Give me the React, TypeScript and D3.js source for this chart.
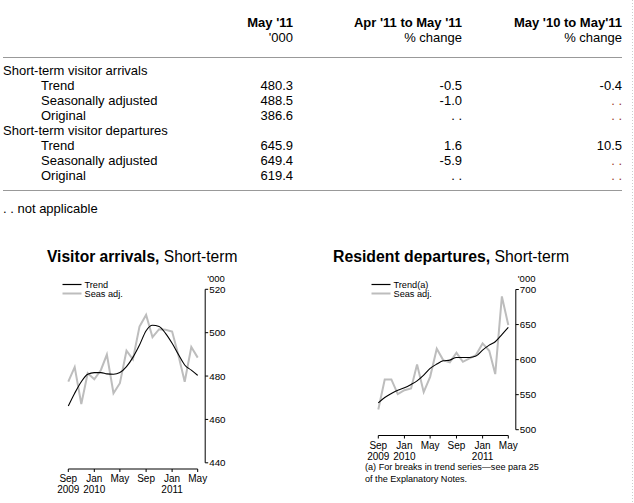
import React from "react";
import * as d3 from "d3";

// ---------- Table data ----------
const tableHeaders = [
  ["May '11", "'000"],
  ["Apr '11 to May '11", "% change"],
  ["May '10 to May'11", "% change"],
];
const tableGroups = ["Short-term visitor arrivals", "Short-term visitor departures"];
const tableRowLabels = ["Trend", "Seasonally adjusted", "Original"];
const arrivalsLevel = ["480.3", "488.5", "386.6"];
const arrivalsMonthly = ["-0.5", "-1.0", ". ."];
const arrivalsYearly = ["-0.4", ". .", ". ."];
const departuresLevel = ["645.9", "649.4", "619.4"];
const departuresMonthly = ["1.6", "-5.9", ". ."];
const departuresYearly = ["10.5", ". .", ". ."];

// ---------- Chart data (monthly, Sep 2009 – May 2011) ----------
const arrivalsTrend = [466.2, 472.1, 477.4, 480.8, 481.6, 481.6, 481.0, 480.8, 481.6, 484.3, 488.6, 494.3, 500.9, 503.4, 502.8, 499.7, 495.1, 489.7, 485.1, 482.7, 480.3];
const arrivalsSA = [477.4, 484.1, 467.1, 481.3, 478.5, 482.8, 489.9, 472.1, 476.7, 491.7, 487.7, 502.8, 508.2, 497.9, 501.6, 501.3, 500.5, 489.0, 477.4, 493.4, 488.5];
const departuresTrend = [538.3, 546.0, 551.7, 556.4, 559.7, 564.5, 569.7, 577.9, 587.4, 593.6, 598.3, 599.3, 603.1, 603.1, 603.1, 605.0, 613.6, 620.7, 625.5, 635.7, 645.9];
const departuresSA = [528.8, 571.7, 571.7, 550.7, 556.4, 558.8, 593.1, 553.6, 575.4, 615.4, 599.3, 596.0, 609.7, 596.9, 601.7, 606.4, 623.1, 612.6, 579.3, 690.1, 649.4];

const arrivalsTicks = [440, 460, 480, 500, 520];
const departuresTicks = [500, 550, 600, 650, 700];
const monthTickLabels = ["Sep", "Jan", "May", "Sep", "Jan", "May"];
const yearTickLabels = ["2009", "2010", "", "", "2011", ""];

const months = d3.timeMonth.range(new Date(2009, 8, 1), new Date(2011, 5, 1));

const FONT = "'Liberation Sans', Arial, sans-serif";

type ChartProps = {
  title: string;
  trendLabel: string;
  trend: number[];
  sa: number[];
  domain: [number, number];
  ticks: number[];
  x0: number;
  x1: number;
  yTop: number;
  yBottom: number;
  xAxisY: number;
  titleX: number;
  titleSize: number;
  legendX: number;
  footnote?: string[];
  footnoteX?: number;
};

function Chart(p: ChartProps) {
  const x = d3.scaleTime().domain([months[0], months[months.length - 1]]).range([p.x0, p.x1]);
  const y = d3.scaleLinear().domain(p.domain).range([p.yBottom, p.yTop]);
  const line = d3
    .line<number>()
    .x((_, i) => x(months[i]))
    .y((v) => y(v))
    .curve(d3.curveMonotoneX);
  const lineSA = d3
    .line<number>()
    .x((_, i) => x(months[i]))
    .y((v) => y(v));
  const axisX = p.x1 + 7.5;
  const tdates = [0, 4, 8, 12, 16, 20].map((i) => months[i]);
  return (
    <g>
      <text x={p.titleX} y={262} fontSize={p.titleSize} fontFamily={FONT} fill="#000">
        <tspan fontWeight="bold">{p.title},</tspan>
        <tspan> Short-term</tspan>
      </text>
      {/* legend */}
      <line x1={p.legendX} x2={p.legendX + 19} y1={284.5} y2={284.5} stroke="#000" strokeWidth={1.2} />
      <text x={p.legendX + 22} y={287.7} fontSize={9.2} fontFamily={FONT}>{p.trendLabel}</text>
      <line x1={p.legendX} x2={p.legendX + 19} y1={293.5} y2={293.5} stroke="#bdbdbd" strokeWidth={2} />
      <text x={p.legendX + 22} y={296.7} fontSize={9.2} fontFamily={FONT}>Seas adj.</text>

      {/* series */}
      <path d={lineSA(p.sa) || ""} fill="none" stroke="#bdbdbd" strokeWidth={2} />
      <path d={line(p.trend) || ""} fill="none" stroke="#000" strokeWidth={1.1} />

      {/* y axis */}
      <line x1={axisX} x2={axisX} y1={y(p.domain[1])} y2={y(p.domain[0])} stroke="#000" strokeWidth={1} />
      {p.ticks.map((t) => (
        <g key={t}>
          <line x1={axisX} x2={axisX + 3} y1={y(t)} y2={y(t)} stroke="#000" strokeWidth={1} />
          <text x={axisX + 4} y={y(t) + 3.5} fontSize={9.8} fontFamily={FONT}>{t}</text>
        </g>
      ))}
      <text x={axisX + 2} y={282} fontSize={9.5} fontFamily={FONT}>'000</text>

      {/* x axis */}
      <line x1={p.x0} x2={p.x1} y1={p.xAxisY} y2={p.xAxisY} stroke="#000" strokeWidth={1} />
      {tdates.map((d, i) => (
        <g key={i}>
          <line x1={x(d)} x2={x(d)} y1={p.xAxisY} y2={p.xAxisY + 3} stroke="#000" strokeWidth={1} />
          <text x={x(d)} y={p.xAxisY + 13} fontSize={10} fontFamily={FONT} textAnchor="middle">{monthTickLabels[i]}</text>
          {yearTickLabels[i] && (
            <text x={x(d)} y={p.xAxisY + 24} fontSize={10} fontFamily={FONT} textAnchor="middle">{yearTickLabels[i]}</text>
          )}
        </g>
      ))}
      {p.footnote &&
        p.footnote.map((f, i) => (
          <text key={i} x={p.footnoteX} y={p.xAxisY + 34.5 + i * 11.5} fontSize={9.1} fontFamily={FONT}>{f}</text>
        ))}
    </g>
  );
}

export default function App() {
  const colRight = [293, 462, 622];
  const rowY0 = 74.5;
  const rowH = 15;
  const groups = [
    { name: tableGroups[0], cols: [arrivalsLevel, arrivalsMonthly, arrivalsYearly] },
    { name: tableGroups[1], cols: [departuresLevel, departuresMonthly, departuresYearly] },
  ];
  return (
    <svg
      width={634}
      height={503}
      style={{ position: "absolute", left: 0, top: 0, background: "#fff" }}
      fontFamily={FONT}
    >
      <rect width={634} height={503} fill="#fff" />
      {/* table header */}
      {tableHeaders.map((h, i) => (
        <g key={i}>
          <text x={colRight[i]} y={26.5} fontSize={13} fontWeight="bold" textAnchor="end">{h[0]}</text>
          <text x={colRight[i]} y={41.5} fontSize={13} textAnchor="end">{h[1]}</text>
        </g>
      ))}
      <line x1={3} x2={622} y1={57.5} y2={57.5} stroke="#999" strokeWidth={1.2} />
      {groups.map((g, gi) => {
        const base = rowY0 + gi * 4 * rowH;
        return (
          <g key={gi}>
            <text x={3} y={base} fontSize={13}>{g.name}</text>
            {tableRowLabels.map((r, ri) => (
              <g key={ri}>
                <text x={41} y={base + (ri + 1) * rowH} fontSize={13}>{r}</text>
                {g.cols.map((c, ci) => (
                  <text
                    key={ci}
                    x={colRight[ci]}
                    y={base + (ri + 1) * rowH}
                    fontSize={13}
                    textAnchor="end"
                    fill={c[ri] === ". ." && ci === 2 ? "#9a3a2a" : "#000"}
                  >
                    {c[ri]}
                  </text>
                ))}
              </g>
            ))}
          </g>
        );
      })}
      <line x1={3} x2={622} y1={190.5} y2={190.5} stroke="#999" strokeWidth={1.2} />
      <text x={3} y={212.5} fontSize={13}>. . not applicable</text>
      <line x1={632.5} x2={632.5} y1={0} y2={503} stroke="#ccc" strokeWidth={1} strokeDasharray="1,2" />

      <Chart
        title="Visitor arrivals"
        trendLabel="Trend"
        trend={arrivalsTrend}
        sa={arrivalsSA}
        domain={[440, 520]}
        ticks={arrivalsTicks}
        x0={68.3}
        x1={197.7}
        yTop={289.3}
        yBottom={462.8}
        xAxisY={469}
        titleX={47}
        titleSize={15.6}
        legendX={62.5}
      />
      <Chart
        title="Resident departures"
        trendLabel="Trend(a)"
        trend={departuresTrend}
        sa={departuresSA}
        domain={[500, 700]}
        ticks={departuresTicks}
        x0={378.3}
        x1={508.3}
        yTop={289.5}
        yBottom={429.7}
        xAxisY={435.5}
        titleX={333}
        titleSize={15.8}
        legendX={371.5}
        footnote={["(a) For breaks in trend series\u2014see para 25", "of the Explanatory Notes."]}
        footnoteX={365}
      />
    </svg>
  );
}
